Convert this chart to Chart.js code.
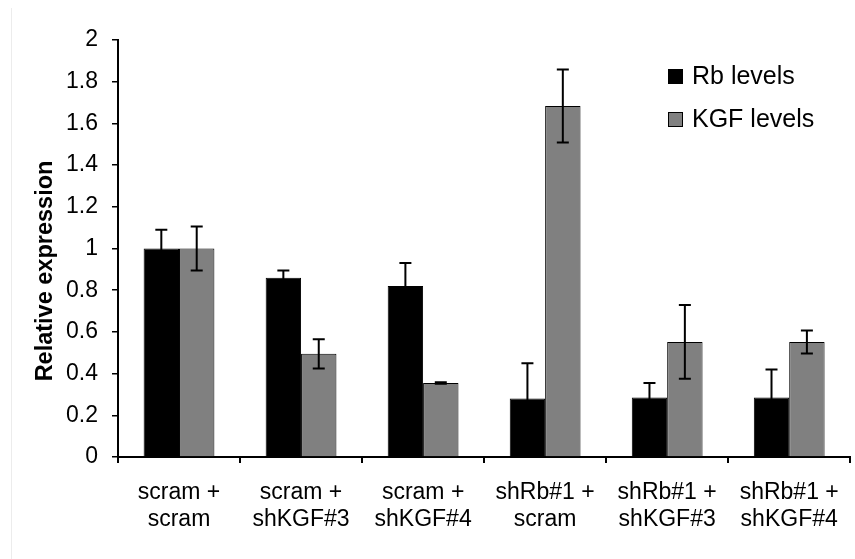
<!DOCTYPE html>
<html>
<head>
<meta charset="utf-8">
<script src="https://cdn.jsdelivr.net/npm/chart.js@4"></script>
<style>
    html, body { margin: 0; padding: 0; background: #fff; }
    #wrap { width: 855px; height: 559px; position: relative; }
    #edge { position: absolute; left: 11px; top: 8px; bottom: 0; width: 1px; background: #ececec; }
</style>
</head>
<body>
<div id="wrap"><div id="edge"></div><canvas id="expChart"></canvas></div>
<script>
const groups = [
    ["scram +", "scram"],
    ["scram +", "shKGF#3"],
    ["scram +", "shKGF#4"],
    ["shRb#1 +", "scram"],
    ["shRb#1 +", "shKGF#3"],
    ["shRb#1 +", "shKGF#4"]
];
const rbLevels = [1.0, 0.86, 0.82, 0.28, 0.285, 0.285];
const rbErrors = [0.09, 0.035, 0.11, 0.17, 0.07, 0.135];
const kgfLevels = [1.0, 0.495, 0.355, 1.683, 0.552, 0.552];
const kgfErrors = [0.105, 0.07, 0.004, 0.175, 0.177, 0.055];
const yTitle = "Relative expression";

const FONT = "'Liberation Sans', Arial, sans-serif";

// error bars drawn on top of each bar
const errorBars = {
    id: "errorBars",
    afterDatasetsDraw(chart) {
        const ctx = chart.ctx;
        const yScale = chart.scales.y;
        chart.data.datasets.forEach(function (ds, i) {
            const meta = chart.getDatasetMeta(i);
            meta.data.forEach(function (bar, j) {
                const v = ds.data[j], e = ds.errors[j];
                const yTop = yScale.getPixelForValue(v + e);
                const yBot = yScale.getPixelForValue(v - e);
                ctx.save();
                ctx.strokeStyle = "#000";
                ctx.lineWidth = 2;
                ctx.beginPath();
                ctx.moveTo(bar.x, yTop);
                ctx.lineTo(bar.x, yBot);
                ctx.moveTo(bar.x - 6, yTop);
                ctx.lineTo(bar.x + 6, yTop);
                ctx.moveTo(bar.x - 6, yBot);
                ctx.lineTo(bar.x + 6, yBot);
                ctx.stroke();
                ctx.restore();
            });
        });
    }
};

// legend inside plot (top right) + y title, which sits a bit below centre
const extras = {
    id: "extras",
    afterDraw(chart) {
        const ctx = chart.ctx;
        ctx.save();
        ctx.font = "25px " + FONT;
        ctx.textBaseline = "middle";
        chart.data.datasets.forEach(function (ds, i) {
            const y = 76 + i * 43;
            ctx.fillStyle = ds.backgroundColor;
            ctx.fillRect(668, y - 7, 15, 15);
            ctx.strokeStyle = "#000";
            ctx.lineWidth = 1;
            ctx.strokeRect(668.5, y - 6.5, 14, 14);
            ctx.fillStyle = "#000";
            ctx.fillText(ds.label, 692, y + 1);
        });

        ctx.translate(46, 271);
        ctx.rotate(-Math.PI / 2);
        ctx.font = "bold 23.5px " + FONT;
        ctx.textAlign = "center";
        ctx.textBaseline = "middle";
        ctx.fillStyle = "#000";
        ctx.fillText(yTitle, 0, 0);
        ctx.restore();
    }
};

new Chart(document.getElementById("expChart"), {
    type: "bar",
    data: {
        labels: groups,
        datasets: [
            {
                label: "Rb levels",
                data: rbLevels,
                errors: rbErrors,
                backgroundColor: "#000000",
                borderColor: "#000000",
                borderWidth: 1
            },
            {
                label: "KGF levels",
                data: kgfLevels,
                errors: kgfErrors,
                backgroundColor: "#808080",
                borderColor: "#000000",
                borderWidth: 1
            }
        ]
    },
    options: {
        responsive: true,
        maintainAspectRatio: false,
        animation: false,
        layout: { padding: { top: 40, right: 3, left: 0, bottom: 0 } },
        datasets: { bar: { categoryPercentage: 0.58, barPercentage: 1.0 } },
        plugins: {
            legend: { display: false },
            tooltip: { enabled: false }
        },
        scales: {
            y: {
                min: 0,
                max: 2,
                afterFit(scale) { scale.width = 118; },
                ticks: {
                    stepSize: 0.2,
                    color: "#000",
                    padding: 14,
                    font: { family: FONT, size: 23 },
                    callback: function (v) { return String(Math.round(v * 10) / 10); }
                },
                grid: {
                    drawOnChartArea: false,
                    tickLength: 6,
                    color: "#000",
                    lineWidth: 1.5
                },
                border: { color: "#000", width: 2 }
            },
            x: {
                afterFit(scale) { scale.height = 102; },
                ticks: {
                    color: "#000",
                    padding: 16,
                    maxRotation: 0,
                    font: { family: FONT, size: 23, lineHeight: 1.17 }
                },
                grid: {
                    offset: true,
                    drawOnChartArea: false,
                    tickLength: 6,
                    color: "#000",
                    lineWidth: 2
                },
                border: { color: "#000", width: 2 }
            }
        }
    },
    plugins: [errorBars, extras]
});
</script>
</body>
</html>
